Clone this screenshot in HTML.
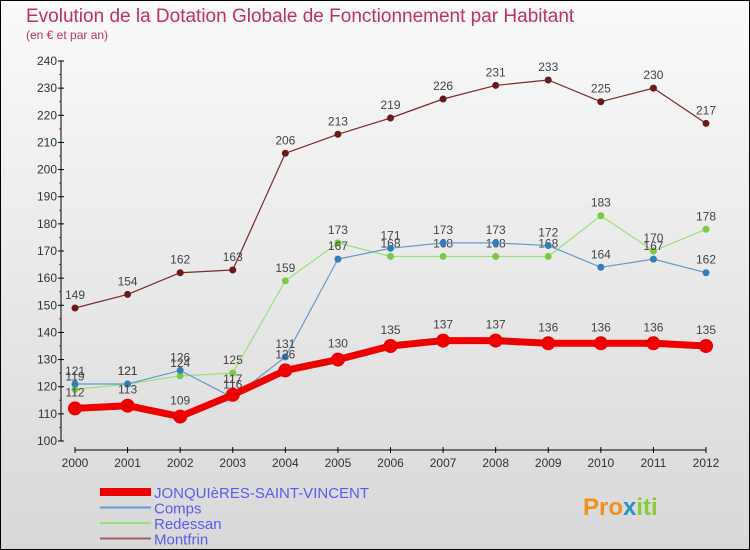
<!DOCTYPE html>
<html><head><meta charset="utf-8"><style>
body{margin:0}
#c{width:750px;height:550px;position:relative;background:linear-gradient(#fafafa,#d8d8d8);box-sizing:border-box;border:1px solid #000;font-family:"Liberation Sans",sans-serif;overflow:hidden}
</style></head><body>
<div id="c">
<svg width="750" height="550" style="position:absolute;left:-1px;top:-1px" id="svg">
<text x="26" y="22" font-size="19" fill="#c0305f">Evolution de la Dotation Globale de Fonctionnement par Habitant</text>
<text x="26" y="39" font-size="12" fill="#c0305f">(en € et par an)</text>
<g id="axes"></g><g id="series"></g><g id="legend"></g>
</svg>
</div>
<script>
const years=[2000,2001,2002,2003,2004,2005,2006,2007,2008,2009,2010,2011,2012];
const yTicks=[100,110,120,130,140,150,160,170,180,190,200,210,220,230,240];
const jonq=[112,113,109,117,126,130,135,137,137,136,136,136,135];
const comps=[121,121,126,116,131,167,171,173,173,172,164,167,162];
const redessan=[119,121,124,125,159,173,168,168,168,168,183,170,178];
const montfrin=[149,154,162,163,206,213,219,226,231,233,225,230,217];
const NS="http://www.w3.org/2000/svg";
const xS=i=>75+i*(706-75)/(years.length-1);
const yS=v=>441-(v-100)*(441-61)/140;
function mk(tag,attrs,parent,text){const e=document.createElementNS(NS,tag);for(const k in attrs)e.setAttribute(k,attrs[k]);if(text!==undefined)e.textContent=text;parent.appendChild(e);return e;}
const ax=document.getElementById('axes');
let e=mk('line',{x1:61,y1:61,x2:61,y2:441,stroke:'#000'},ax);


yTicks.forEach(v=>{
 mk('line',{x1:58,x2:64,y1:yS(v),y2:yS(v),stroke:'#000'},ax);
 if(v<240)mk('line',{x1:59,x2:61,y1:yS(v+5),y2:yS(v+5),stroke:'#e00'},ax);
 const t=mk('text',{x:57,y:yS(v)+4,'font-size':12,fill:'#333','text-anchor':'end'},ax,v);
 
 
});
e=mk('line',{x1:75,y1:450,x2:706,y2:450,stroke:'#000'},ax);


years.forEach((y,i)=>{
 mk('line',{x1:xS(i),x2:xS(i),y1:447,y2:453,stroke:'#000'},ax);
 const t=mk('text',{x:xS(i),y:467,'font-size':12,fill:'#333','text-anchor':'middle'},ax,y);
 
 
});
const sg=document.getElementById('series');
function series(data,color,dot,w,r,name,dy){
 const g=mk('g',{},sg);
 
 
 mk('polyline',{points:data.map((v,i)=>xS(i)+','+yS(v)).join(' '),fill:'none',stroke:color,'stroke-width':w,'stroke-linejoin':'round'},g);
 data.forEach((v,i)=>{
  const c=mk('circle',{cx:xS(i),cy:yS(v),r:r,fill:dot},g);
  
  
  const t=mk('text',{x:xS(i),y:yS(v)+dy,'font-size':12,fill:'#444','text-anchor':'middle'},g,v);
  
  
 });
}
series(montfrin,'#7a2a2a','#6b1a1a',1.2,3.5,'montfrin-series',-9);
series(redessan,'#99e07a','#77cc44',1.2,3.5,'redessan-series',-9);
series(comps,'#6699cc','#2f7fbf',1.2,3.5,'comps-series',-9);
series(jonq,'#ee0000','#ee0000',7,7,'jonquieres-series',-12);
const lg=document.getElementById('legend');
const items=[['JONQUIèRES-SAINT-VINCENT','#ee0000',8],['Comps','#6699cc',2],['Redessan','#99e07a',2],['Montfrin','#a06060',2]];
items.forEach((it,i)=>{
 const y=492+i*15.5;
 const g=mk('g',{},lg);
 
 
 mk('line',{x1:100,x2:151,y1:y,y2:y,stroke:it[1],'stroke-width':it[2]},g);
 mk('text',{x:154,y:y+6,'font-size':15,fill:'#5b5bef'},g,it[0]);
});
const lt=mk('text',{x:583,y:515,'font-size':24,'font-weight':'bold',fill:'#f09020'},lg,'Pro');


const t2=mk('tspan',{fill:'#2a90d0'},lt,'x');
mk('tspan',{fill:'#88cc33'},lt,'iti');
</script>
</body></html>
